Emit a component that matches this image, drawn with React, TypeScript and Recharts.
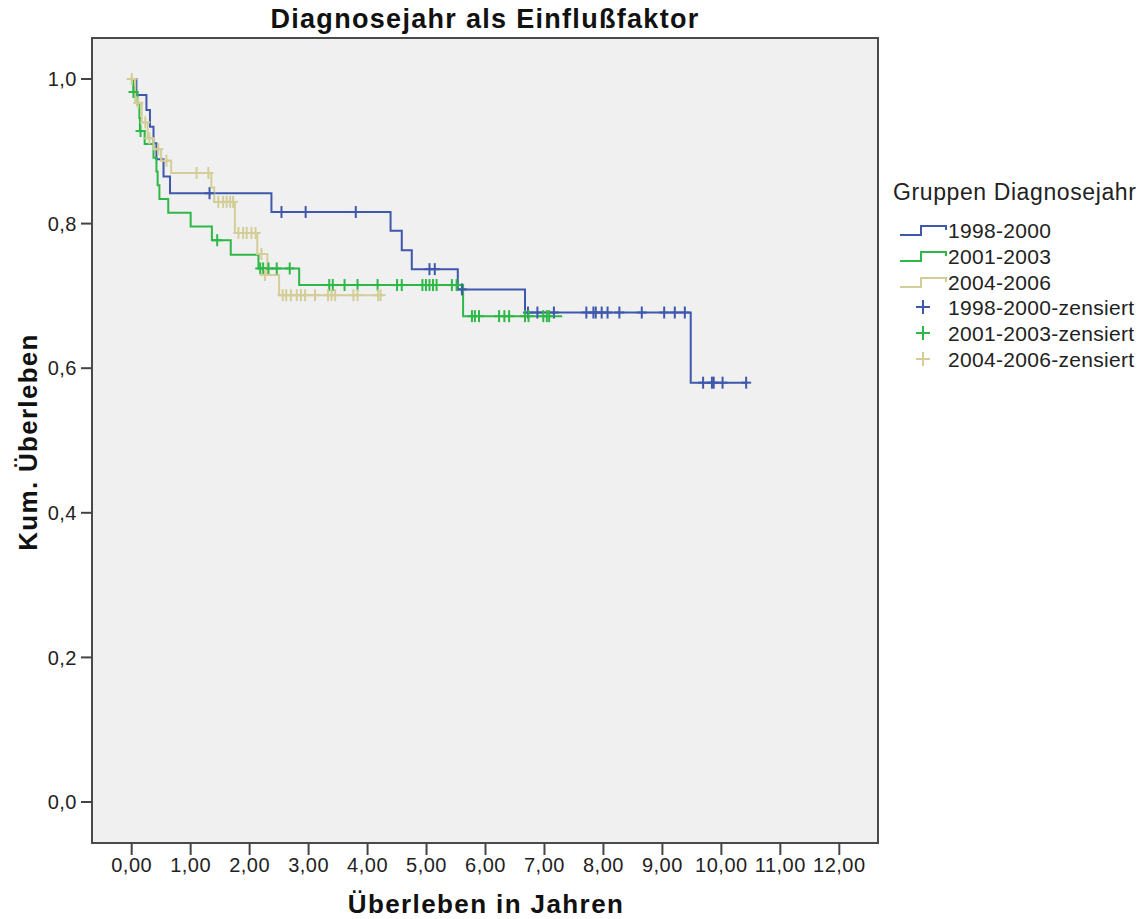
import React from 'react';
import { ComposedChart, Line, Scatter, XAxis, YAxis } from 'recharts';

// Kaplan-Meier steps: [Jahre, kum. Überleben]
const blueSteps: [number, number][] = [
  [0, 1.0], [0.08, 0.978], [0.25, 0.957], [0.31, 0.934], [0.37, 0.911], [0.42, 0.889],
  [0.54, 0.865], [0.65, 0.842], [2.37, 0.816], [4.39, 0.79], [4.58, 0.763], [4.75, 0.737],
  [5.53, 0.709], [6.67, 0.677], [9.48, 0.58], [10.44, 0.58],
];
const greenSteps: [number, number][] = [
  [0, 1.0], [0.03, 0.982], [0.1, 0.964], [0.13, 0.946], [0.14, 0.928], [0.22, 0.91],
  [0.37, 0.891], [0.42, 0.872], [0.44, 0.853], [0.47, 0.834], [0.62, 0.815], [1.0, 0.796],
  [1.36, 0.777], [1.68, 0.757], [2.15, 0.738], [2.84, 0.715], [5.62, 0.672], [7.3, 0.672],
];
const beigeSteps: [number, number][] = [
  [0, 1.0], [0.06, 0.967], [0.17, 0.94], [0.27, 0.918], [0.37, 0.903], [0.5, 0.887],
  [0.67, 0.87], [1.35, 0.85], [1.4, 0.83], [1.75, 0.787], [2.13, 0.758], [2.3, 0.729],
  [2.5, 0.701], [4.22, 0.701],
];

// zensierte Fälle
const blueCensored: [number, number][] = [
  [1.32, 0.842], [2.54, 0.816], [2.95, 0.816], [3.8, 0.816], [5.05, 0.737], [5.14, 0.737],
  [5.6, 0.709], [6.72, 0.677], [6.88, 0.677], [7.16, 0.677], [7.71, 0.677], [7.83, 0.677],
  [7.87, 0.677], [7.97, 0.677], [8.07, 0.677], [8.27, 0.677], [8.65, 0.677], [9.03, 0.677],
  [9.21, 0.677], [9.38, 0.677], [9.69, 0.58], [9.84, 0.58], [9.87, 0.58], [10.02, 0.58],
  [10.42, 0.58],
];
const greenCensored: [number, number][] = [
  [0.03, 0.982], [0.15, 0.928], [1.45, 0.777], [2.18, 0.738], [2.23, 0.738], [2.32, 0.738],
  [2.46, 0.738], [2.68, 0.738], [3.35, 0.715], [3.41, 0.715], [3.61, 0.715], [3.83, 0.715],
  [4.17, 0.715], [4.5, 0.715], [4.58, 0.715], [4.93, 0.715], [4.99, 0.715], [5.05, 0.715],
  [5.11, 0.715], [5.17, 0.715], [5.43, 0.715], [5.51, 0.715], [5.77, 0.672], [5.82, 0.672],
  [5.89, 0.672], [6.23, 0.672], [6.32, 0.672], [6.4, 0.672], [6.67, 0.672], [6.73, 0.672],
  [6.98, 0.672], [7.04, 0.672], [7.08, 0.672],
];
const beigeCensored: [number, number][] = [
  [0.0, 1.0], [0.11, 0.967], [0.23, 0.94], [0.3, 0.918], [0.45, 0.903], [0.59, 0.887],
  [1.1, 0.87], [1.3, 0.87], [1.47, 0.83], [1.55, 0.83], [1.61, 0.83], [1.67, 0.83],
  [1.72, 0.83], [1.81, 0.787], [1.89, 0.787], [1.95, 0.787], [2.03, 0.787], [2.1, 0.787],
  [2.2, 0.758], [2.26, 0.729], [2.56, 0.701], [2.62, 0.701], [2.7, 0.701], [2.8, 0.701],
  [2.87, 0.701], [2.94, 0.701], [3.11, 0.701], [3.33, 0.701], [3.39, 0.701], [3.45, 0.701],
  [3.76, 0.701], [3.83, 0.701], [4.18, 0.701], [4.22, 0.701],
];

const groups = ['1998-2000', '2001-2003', '2004-2006'];
const xTicks = [0, 1, 2, 3, 4, 5, 6, 7, 8, 9, 10, 11, 12];
const yTicks = [0, 0.2, 0.4, 0.6, 0.8, 1.0];

const COLORS = ['#3E58AC', '#2EB848', '#D3CE97'];
const FONT = '"Liberation Sans", Arial, sans-serif';

const toRows = (arr: [number, number][]) => arr.map(([t, s]) => ({ t, s }));

const Plus = (color: string) => (props: any) => {
  const { cx, cy } = props;
  return (
    <g>
      <line x1={cx - 5} x2={cx + 5} y1={cy} y2={cy} stroke={color} strokeWidth={2} />
      <line x1={cx} x2={cx} y1={cy - 6} y2={cy + 6} stroke={color} strokeWidth={2} />
    </g>
  );
};

function LegendBox() {
  const rowY = [230, 256, 282, 307, 333, 359];
  return (
    <svg width={263} height={220} style={{ position: 'absolute', left: 885, top: 170 }}>
      <text x={8} y={30} fontSize={23} letterSpacing={0.6} fontFamily={FONT} fill="#222">Gruppen Diagnosejahr</text>
      {groups.map((g, i) => {
        const y = rowY[i] - 170;
        return (
          <g key={g}>
            <path d={`M15,${y + 5} H36 V${y - 4} H61 V${y}`} stroke={COLORS[i]} strokeWidth={2} fill="none" />
            <text x={63} y={y + 8} fontSize={21} letterSpacing={0.3} fontFamily={FONT} fill="#222">{g}</text>
          </g>
        );
      })}
      {groups.map((g, i) => {
        const y = rowY[i + 3] - 170;
        return (
          <g key={g + 'z'}>
            <line x1={31} x2={45} y1={y} y2={y} stroke={COLORS[i]} strokeWidth={2} />
            <line x1={38} x2={38} y1={y - 7} y2={y + 7} stroke={COLORS[i]} strokeWidth={2} />
            <text x={63} y={y + 8} fontSize={21} letterSpacing={0.3} fontFamily={FONT} fill="#222">{g}-zensiert</text>
          </g>
        );
      })}
    </svg>
  );
}

export default function App() {
  const steps = [blueSteps, greenSteps, beigeSteps];
  const censored = [blueCensored, greenCensored, beigeCensored];
  return (
    <div style={{ position: 'absolute', left: 0, top: 0, width: 1148, height: 919, background: '#fff', fontFamily: FONT }}>
      <div style={{ position: 'absolute', left: 91, top: 37, width: 788, height: 807, boxSizing: 'border-box', background: '#F0F0F0', border: '2px solid #4a4a4a' }} />
      <div style={{ position: 'absolute', left: 0, top: 4, width: 970, textAlign: 'center', fontSize: 27, fontWeight: 'bold', letterSpacing: 1.3, color: '#111' }}>
        Diagnosejahr als Einflußfaktor
      </div>
      <div style={{ position: 'absolute', left: 0, top: 889, width: 972, textAlign: 'center', fontSize: 26, fontWeight: 'bold', letterSpacing: 1.4, color: '#111' }}>
        Überleben in Jahren
      </div>
      <div style={{ position: 'absolute', left: 28, top: 442, transform: 'translate(-50%, -50%) rotate(-90deg)', whiteSpace: 'nowrap', fontSize: 26, fontWeight: 'bold', letterSpacing: 1.3, color: '#111' }}>
        Kum. Überleben
      </div>
      <div style={{ position: 'absolute', left: 0, top: 0 }}>
        <ComposedChart width={1148} height={919} margin={{ top: 38, right: 270, left: 32, bottom: 0 }}>
          <XAxis
            type="number"
            dataKey="t"
            domain={[-0.673, 12.656]}
            ticks={xTicks}
            tickFormatter={(v: number) => v.toFixed(2).replace('.', ',')}
            axisLine={false}
            tickLine={{ stroke: '#444', strokeWidth: 2 }}
            tickSize={12}
            tickMargin={3}
            height={76}
            tick={{ fill: '#222', fontSize: 20, fontFamily: FONT, letterSpacing: 0.5 }}
            allowDataOverflow
          />
          <YAxis
            type="number"
            dataKey="s"
            domain={[-0.0567, 1.0567]}
            ticks={yTicks}
            tickFormatter={(v: number) => v.toFixed(1).replace('.', ',')}
            axisLine={false}
            tickLine={{ stroke: '#444', strokeWidth: 2 }}
            tickSize={11}
            tickMargin={4}
            width={60}
            tick={{ fill: '#222', fontSize: 20, fontFamily: FONT, letterSpacing: 0.5 }}
            allowDataOverflow
          />
          {steps.map((d, i) => (
            <Line
              key={groups[i]}
              data={toRows(d)}
              dataKey="s"
              type="stepAfter"
              stroke={COLORS[i]}
              strokeWidth={2}
              dot={false}
              activeDot={false}
              isAnimationActive={false}
            />
          ))}
          {censored.map((d, i) => (
            <Scatter
              key={groups[i] + '-z'}
              data={toRows(d)}
              dataKey="s"
              shape={Plus(COLORS[i])}
              isAnimationActive={false}
            />
          ))}
        </ComposedChart>
      </div>
      <LegendBox />
    </div>
  );
}
